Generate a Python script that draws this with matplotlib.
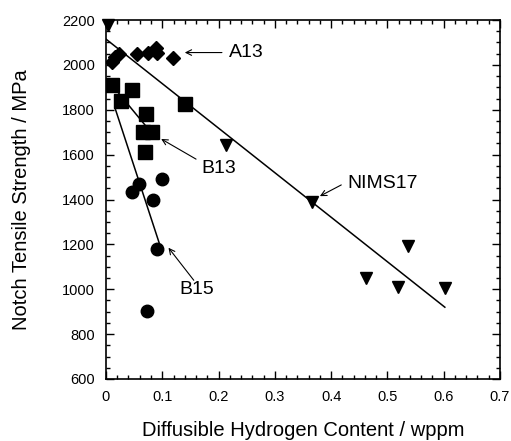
import matplotlib
matplotlib.use("Agg")
import matplotlib.pyplot as plt
from matplotlib.ticker import MultipleLocator

plt.rcParams['font.family'] = ['Liberation Sans', 'DejaVu Sans']

# A13 (diamonds)
a13_x = [0.011, 0.016, 0.023, 0.055, 0.075, 0.089, 0.091, 0.119]
a13_y = [2015, 2035, 2050, 2050, 2055, 2075, 2055, 2030]
# B13 (squares)
b13_x = [0.011, 0.046, 0.027, 0.140, 0.071, 0.066, 0.082, 0.069]
b13_y = [1910, 1890, 1840, 1825, 1780, 1700, 1700, 1610]
# B15 (circles)
b15_x = [0.046, 0.059, 0.099, 0.083, 0.091, 0.073]
b15_y = [1435, 1470, 1490, 1400, 1180, 905]
# NIMS17 (down triangles)
nims_x = [0.004, 0.213, 0.366, 0.462, 0.519, 0.536, 0.602]
nims_y = [2180, 1645, 1390, 1050, 1010, 1195, 1005]

# Fit lines (endpoints)
nims_fit_x = [0.0, 0.602]
nims_fit_y = [2115, 920]
b13_fit_x = [0.015, 0.070]
b13_fit_y = [1897, 1730]
b15_fit_x = [0.016, 0.096]
b15_fit_y = [1808, 1195]

x_ticks = [0, 0.1, 0.2, 0.3, 0.4, 0.5, 0.6, 0.7]
x_ticklabels = ['0', '0.1', '0.2', '0.3', '0.4', '0.5', '0.6', '0.7']
y_ticks = [600, 800, 1000, 1200, 1400, 1600, 1800, 2000, 2200]

fig = plt.figure(figsize=(5.11, 4.41), dpi=100)
ax = fig.add_axes([0.2074, 0.1406, 0.7711, 0.814])

lw = 1.1
ax.plot(nims_fit_x, nims_fit_y, color='black', lw=lw)
ax.plot(b13_fit_x, b13_fit_y, color='black', lw=lw)
ax.plot(b15_fit_x, b15_fit_y, color='black', lw=lw)

ax.plot(a13_x, a13_y, 'D', color='black', ms=7.5, ls='none')
ax.plot(b13_x, b13_y, 's', color='black', ms=9.5, ls='none')
ax.plot(b15_x, b15_y, 'o', color='black', ms=9, ls='none')
ax.plot(nims_x, nims_y, 'v', color='black', ms=9, ls='none', clip_on=False)

ax.set_xlim(0, 0.7)
ax.set_ylim(600, 2200)
ax.set_xticks(x_ticks)
ax.set_xticklabels(x_ticklabels)
ax.set_yticks(y_ticks)
ax.xaxis.set_minor_locator(MultipleLocator(0.02))
ax.yaxis.set_minor_locator(MultipleLocator(50))
ax.tick_params(which='both', direction='in', top=True, right=True, labelsize=10.5, width=1)
ax.tick_params(which='major', length=6)
ax.tick_params(which='minor', length=3)
ax.tick_params(axis='x', pad=8)
ax.tick_params(axis='y', pad=8)
for s in ax.spines.values():
    s.set_linewidth(1.2)

ax.set_xlabel('Diffusible Hydrogen Content / wppm', fontsize=14.5, labelpad=12)
ax.set_ylabel('Notch Tensile Strength / MPa', fontsize=14.5, labelpad=22)

arrow = dict(arrowstyle='->', color='black', lw=0.8, shrinkA=0, shrinkB=0)
fs = 14
ax.annotate('', xy=(0.140, 2055), xytext=(0.206, 2055), arrowprops=arrow)
ax.text(0.219, 2055, 'A13', fontsize=fs, va='center', ha='left')
ax.annotate('', xy=(0.098, 1670), xytext=(0.160, 1580), arrowprops=arrow)
ax.text(0.170, 1540, 'B13', fontsize=fs, va='center', ha='left')
ax.annotate('', xy=(0.111, 1185), xytext=(0.156, 1040), arrowprops=arrow)
ax.text(0.131, 1000, 'B15', fontsize=fs, va='center', ha='left')
ax.annotate('', xy=(0.380, 1415), xytext=(0.418, 1465), arrowprops=arrow)
ax.text(0.429, 1470, 'NIMS17', fontsize=fs, va='center', ha='left')

fig.savefig('out.png', dpi=100)
